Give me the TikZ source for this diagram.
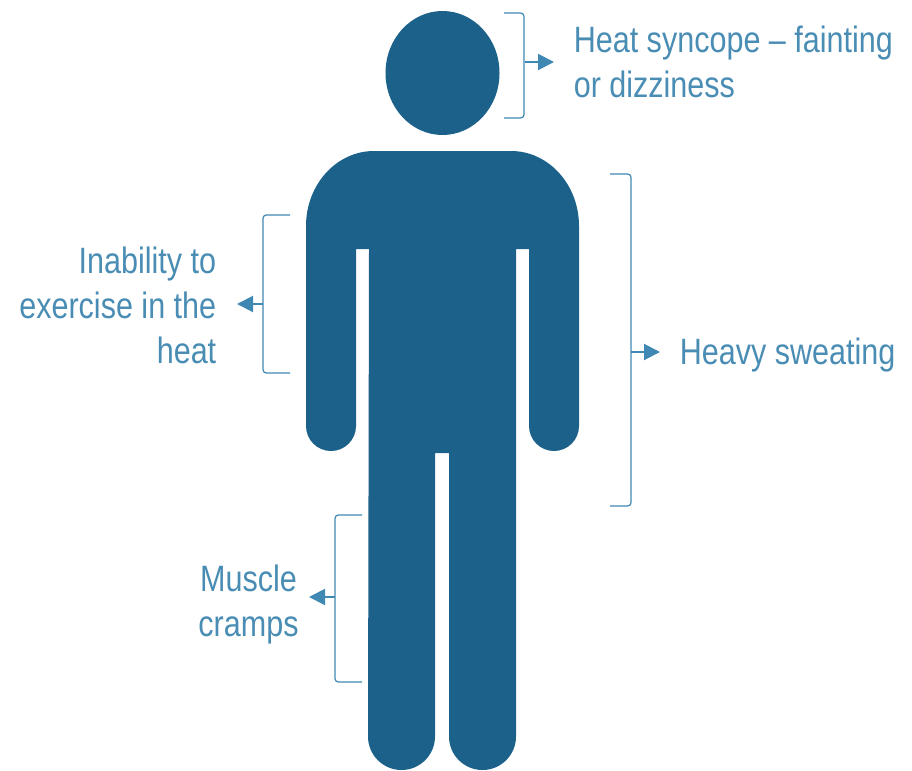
\documentclass[tikz,border=0pt]{standalone}
\usepackage{fontspec}
\setmainfont[FakeStretch=0.833]{Liberation Sans}
\usetikzlibrary{arrows.meta}
\definecolor{bodyblue}{HTML}{1C6189}
\definecolor{labelblue}{HTML}{4A8DB4}
\definecolor{linkblue}{HTML}{3F88B3}
\tikzset{
  figure/.style={fill=bodyblue,draw=none},
  bracket/.style={draw=linkblue,line width=0.9pt,rounded corners=2.5pt},
  pointer/.style={draw=linkblue,line width=1.5pt,-{Triangle[length=12pt,width=12pt]}},
  label/.style={inner sep=0pt,text=labelblue,font=\fontsize{27.5}{33.75}\selectfont,align=#1},
  label/.default=left
}
\begin{document}
\begin{tikzpicture}[x=0.75pt,y=-0.75pt]
\useasboundingbox (0,0) rectangle (912,770);
% figure
\fill[figure] (442.5,73) ellipse [x radius=57,y radius=62];
\fill[figure] (306,226)
  arc [start angle=180,end angle=270,x radius=68,y radius=75]
  -- (511,151)
  arc [start angle=270,end angle=360,x radius=68,y radius=75]
  -- (579,426)
  arc [start angle=0,end angle=180,radius=25]
  -- (529,249) -- (516,249)
  -- (516,736.5)
  arc [start angle=0,end angle=180,radius=33.5]
  -- (449,453) -- (435,453)
  -- (435,736.5)
  arc [start angle=0,end angle=180,radius=33.5]
  -- (369,249) -- (356,249)
  -- (356,426)
  arc [start angle=0,end angle=180,radius=25]
  -- cycle;
% brackets
\coordinate (hT) at (504,13); \coordinate (hC) at (524,13); \coordinate (hD) at (524,118); \coordinate (hB) at (504,118);
\coordinate (sT) at (610,174); \coordinate (sC) at (631,174); \coordinate (sD) at (631,506); \coordinate (sB) at (610,506);
\coordinate (eT) at (290,215); \coordinate (eC) at (263,215); \coordinate (eD) at (263,373); \coordinate (eB) at (290,373);
\coordinate (mT) at (362,515); \coordinate (mC) at (335,515); \coordinate (mD) at (335,682); \coordinate (mB) at (362,682);
\draw[bracket] (hT) -- (hC) -- (hD) -- (hB);
\draw[bracket] (sT) -- (sC) -- (sD) -- (sB);
\draw[bracket] (eT) -- (eC) -- (eD) -- (eB);
\draw[bracket] (mT) -- (mC) -- (mD) -- (mB);
% pointer anchors
\coordinate (hA) at (525,62); \coordinate (hE) at (554,62);
\coordinate (sA) at (631,352); \coordinate (sE) at (660,352);
\coordinate (eA) at (263,304); \coordinate (eE) at (237,304);
\coordinate (mA) at (335,597); \coordinate (mE) at (309,597);
\draw[pointer] (hA) -- (hE);
\draw[pointer] (sA) -- (sE);
\draw[pointer] (eA) -- (eE);
\draw[pointer] (mA) -- (mE);
% labels
\node[label=left,anchor=west] (syncope) at (573.5,62) {Heat syncope -- fainting\\or dizziness};
\node[label=left,anchor=west] (sweat) at (679.5,355) {Heavy sweating};
\node[label=right,anchor=east] (exercise) at (216.5,305) {Inability to\\exercise in the\\heat};
\node[label=center,anchor=center] (cramps) at (248.5,605) {Muscle\\cramps};
\end{tikzpicture}
\end{document}
